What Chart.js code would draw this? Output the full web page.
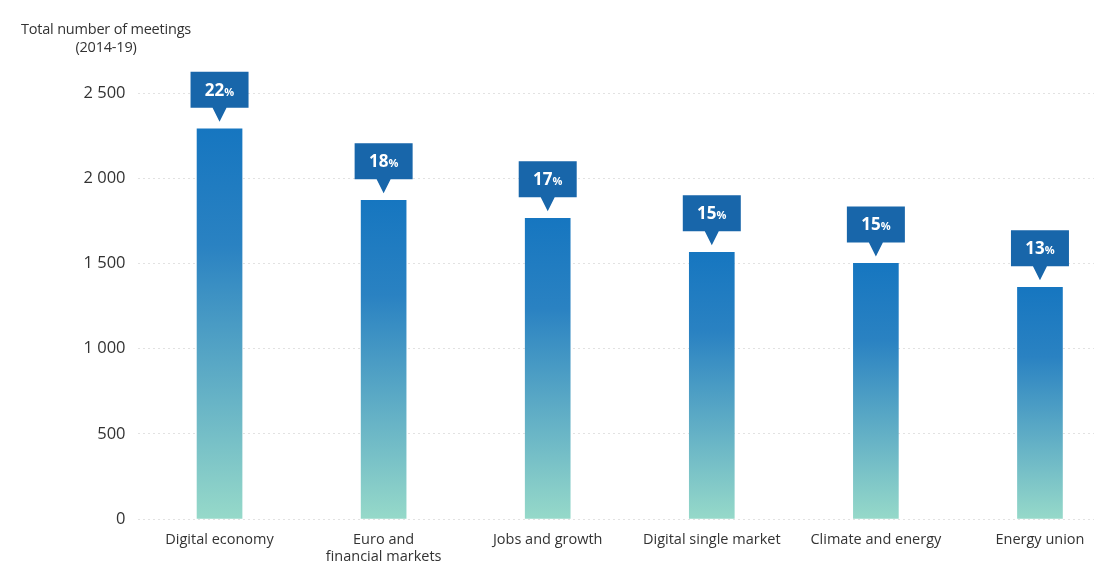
<!DOCTYPE html>
<html>
<head>
<meta charset="utf-8">
<script src="https://cdn.jsdelivr.net/npm/chart.js@4"></script>
<style>
  html, body { margin: 0; padding: 0; background: #fff; overflow: hidden; }
  #wrap { position: relative; width: 1094px; height: 562px; overflow: hidden; }
  #axis-title {
    position: absolute; left: 0; top: 20px; width: 212px;
    font-family: "Open Sans", sans-serif; font-size: 14.5px; line-height: 18px;
    color: #333; text-align: center; letter-spacing: -0.2px;
  }
  canvas { position: absolute; left: 0; top: 0; }
</style>
</head>
<body>
<div id="wrap">
  <canvas id="chart" width="1124" height="562"></canvas>
  <div id="axis-title">Total number of meetings<br>(2014-19)</div>
</div>
<script>
// values
const CATEGORIES = ['Digital economy', ['Euro and', 'financial markets'], 'Jobs and growth',
  'Digital single market', 'Climate and energy', 'Energy union'];
const MEETINGS = [2290, 1870, 1765, 1565, 1500, 1360];
const SHARES = [22, 18, 17, 15, 15, 13];
const Y_TICKS = [0, 500, 1000, 1500, 2000, 2500];

const COLORS = {
  barTop: '#1676c0',
  barBottom: '#96d9c9',
  callout: '#1866aa',
  text: '#333333',
  grid: '#e2e2e2'
};

const FONT = '"Open Sans", sans-serif';

function barGradient(ctx) {
  const chart = ctx.chart;
  if (!chart.chartArea || ctx.type !== 'data') return COLORS.barTop;
  const y = chart.scales.y;
  const top = y.getPixelForValue(ctx.parsed.y);
  const bottom = y.getPixelForValue(0);
  const g = chart.ctx.createLinearGradient(0, top, 0, bottom);
  g.addColorStop(0, COLORS.barTop);
  g.addColorStop(0.3, '#2a82c2');
  g.addColorStop(1, COLORS.barBottom);
  return g;
}

// callout box with the share on top of each bar
const calloutPlugin = {
  id: 'callouts',
  afterDatasetsDraw(chart) {
    const c = chart.ctx;
    const meta = chart.getDatasetMeta(0);
    meta.data.forEach((bar, i) => {
      const x = bar.x;
      const tip = bar.y - 7;
      const boxBottom = tip - 14;
      const boxTop = boxBottom - 36;
      const w = 58;
      c.save();
      c.fillStyle = COLORS.callout;
      c.beginPath();
      c.moveTo(x - w / 2, boxTop);
      c.lineTo(x + w / 2, boxTop);
      c.lineTo(x + w / 2, boxBottom);
      c.lineTo(x + 7, boxBottom);
      c.lineTo(x, tip);
      c.lineTo(x - 7, boxBottom);
      c.lineTo(x - w / 2, boxBottom);
      c.closePath();
      c.fill();

      const num = String(SHARES[i]);
      c.fillStyle = '#fff';
      c.textBaseline = 'alphabetic';
      c.font = 'bold 17px ' + FONT;
      const nw = c.measureText(num).width;
      c.font = 'bold 11px ' + FONT;
      const pw = c.measureText('%').width;
      const start = x - (nw + pw) / 2;
      const base = boxTop + 24;
      c.font = 'bold 17px ' + FONT;
      c.textAlign = 'left';
      c.fillText(num, start, base);
      c.font = 'bold 11px ' + FONT;
      c.fillText('%', start + nw, base);
      c.restore();
    });
  }
};

new Chart(document.getElementById('chart'), {
  type: 'bar',
  data: {
    labels: CATEGORIES,
    datasets: [{
      data: MEETINGS,
      backgroundColor: barGradient,
      borderWidth: 0,
      barThickness: 45
    }]
  },
  options: {
    responsive: false,
    animation: false,
    layout: { padding: { top: 93, right: 2, left: 0, bottom: 0 } },
    plugins: {
      legend: { display: false },
      tooltip: { enabled: false }
    },
    scales: {
      x: {
        grid: { display: false, drawTicks: false },
        border: { display: false },
        ticks: {
          color: COLORS.text,
          font: { family: FONT, size: 14.5, lineHeight: 1.2 },
          padding: 12,
          maxRotation: 0,
          autoSkip: false
        },
        afterFit(scale) { scale.height = 43; }
      },
      y: {
        min: 0,
        max: 2500,
        afterBuildTicks(scale) { scale.ticks = Y_TICKS.map(v => ({ value: v })); },
        grid: {
          color: COLORS.grid,
          lineWidth: 1,
          drawTicks: false
        },
        border: { display: false, dash: [2, 3] },
        ticks: {
          color: COLORS.text,
          font: { family: FONT, size: 16.5 },
          padding: 12,
          callback: v => String(v).replace(/\B(?=(\d{3})+(?!\d))/g, ' ')
        },
        afterFit(scale) { scale.width = 137.5; }
      }
    }
  },
  plugins: [calloutPlugin]
});
</script>
</body>
</html>
